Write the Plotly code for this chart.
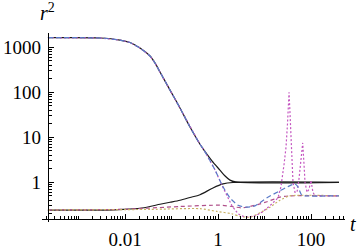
import plotly.graph_objects as go

# ---- data ----
black_top_t = [0.00022, 0.0029, 0.0078, 0.0128, 0.021, 0.0345, 0.044, 0.0566, 0.093, 0.152, 0.25, 0.41, 0.5, 0.74, 1.10, 1.42, 1.81, 2.4, 400]
black_top_r = [1634, 1610, 1450, 1280, 964, 640, 450, 282, 112, 45, 16.9, 7.0, 5.2, 3.0, 1.87, 1.38, 1.12, 1.02, 1.0]

black_bot_t = [0.00022, 0.004, 0.0091, 0.021, 0.0345, 0.0566, 0.093, 0.152, 0.25, 0.41, 0.78, 1.28, 2.1, 400]
black_bot_r = [0.242, 0.242, 0.25, 0.265, 0.29, 0.325, 0.36, 0.40, 0.46, 0.53, 0.75, 0.92, 0.99, 1.0]

blue_t = [0.00022, 0.0029, 0.0078, 0.0128, 0.021, 0.0345, 0.044, 0.0566, 0.093, 0.152, 0.25, 0.41, 0.5, 0.86, 1.22, 1.81, 2.7, 4.1, 6.25, 11.1, 21.5, 32, 45, 52, 63, 74, 400]
blue_r = [1634, 1610, 1450, 1280, 964, 640, 450, 282, 112, 45, 16.9, 7.0, 5.2, 1.9, 0.87, 0.45, 0.31, 0.28, 0.30, 0.45, 0.65, 0.80, 0.92, 0.80, 0.52, 0.50, 0.50]

pink_t = [0.00022, 0.0029, 0.0078, 0.0128, 0.021, 0.0345, 0.044, 0.0566, 0.093, 0.152, 0.25, 0.41, 0.5, 0.86, 1.22, 1.5, 2.0, 2.7, 3.5, 4.5, 6.5, 9, 13, 19.5, 22.6, 26.3, 29.0, 31.2, 33.7, 35.3, 37.1, 39.0, 41.0, 45.3, 50.0, 55.2, 61.0, 66.3, 70.7, 74.3, 82, 90.6, 100, 110, 122, 400]
pink_r = [1634, 1610, 1450, 1280, 964, 640, 450, 282, 112, 45, 16.9, 7.0, 5.2, 1.9, 0.85, 0.55, 0.30, 0.20, 0.175, 0.17, 0.18, 0.22, 0.30, 0.45, 0.8, 2.5, 6, 20, 100, 35, 12, 3, 1.0, 0.6, 0.6, 1.2, 4, 7.5, 2.5, 1.0, 0.6, 0.7, 1.1, 0.6, 0.5, 0.5]

purple_t = [0.00022, 0.0078, 0.152, 1.10, 1.98, 3.25, 4.9, 7.2, 11.3, 21.5, 35.3, 400]
purple_r = [0.242, 0.25, 0.29, 0.31, 0.29, 0.27, 0.29, 0.32, 0.37, 0.47, 0.50, 0.50]

gold_t = [0.00022, 0.035, 0.41, 0.95, 1.98, 3.0, 4.9, 8.0, 13.1, 21.5, 35.3, 400]
gold_r = [0.242, 0.25, 0.26, 0.225, 0.20, 0.175, 0.168, 0.21, 0.28, 0.40, 0.50, 0.50]

x_major = [0.01, 1, 100]
x_major_text = ["0.01", "1", "100"]
y_major = [1, 10, 100, 1000]
y_major_text = ["1", "10", "100", "1000"]

# ---- figure ----
fig = go.Figure()

def add(t, r, color, dash, shape="spline", smoothing=0.8):
    line = dict(color=color, width=1.2, dash=dash, shape=shape)
    if shape == "spline":
        line["smoothing"] = smoothing
    fig.add_trace(go.Scatter(x=t, y=r, mode="lines", line=line,
                             hoverinfo="skip", showlegend=False))

add(black_top_t, black_top_r, "#1a1a1a", "solid")
add(black_bot_t, black_bot_r, "#1a1a1a", "solid")
add(purple_t, purple_r, "#b0508a", "4px,3px", smoothing=0.6)
add(gold_t, gold_r, "#c8b062", "2px,2px", smoothing=0.6)
add(pink_t, pink_r, "#c456c0", "2px,2px", shape="linear")
add(blue_t, blue_r, "#5a7ac8", "5px,3px", smoothing=0.6)

minor_x = [m * 10.0 ** k for k in range(-4, 3) for m in range(1, 10)
           if not any(abs(m * 10.0 ** k - v) < 1e-12 for v in x_major)]
minor_y = [m * 10.0 ** k for k in range(-1, 4) for m in range(1, 10)
           if not any(abs(m * 10.0 ** k - v) < 1e-12 for v in y_major)]

W, H = 360, 250
L, R, T, B = 42, 15, 33, 28
pw, ph = W - L - R, H - T - B

FAM = "Liberation Serif, Times New Roman, Times, serif"
font = dict(family=FAM, size=19, color="black")

fig.update_layout(
    template="none",
    width=W, height=H,
    margin=dict(l=L, r=R, t=T, b=B, pad=0),
    paper_bgcolor="white", plot_bgcolor="white",
    font=font,
    xaxis=dict(
        type="log", range=[-3.785, 2.731], automargin=False,
        tickmode="array", tickvals=x_major, ticktext=x_major_text,
        ticks="inside", ticklen=5, tickwidth=1, tickcolor="black",
        minor=dict(tickmode="array", tickvals=minor_x, ticks="inside", ticklen=3,
                   tickwidth=0.8, tickcolor="black", showgrid=False),
        showline=True, linecolor="black", linewidth=1,
        showgrid=False, zeroline=False,
        anchor="free", position=(222 - 219) / ph,
        tickfont=font, ticklabelstandoff=3,
    ),
    yaxis=dict(
        type="log", range=[-0.882, 3.318], automargin=False,
        tickmode="array", tickvals=y_major, ticktext=y_major_text,
        ticks="inside", ticklen=5, tickwidth=1, tickcolor="black",
        minor=dict(tickmode="array", tickvals=minor_y, ticks="inside", ticklen=3,
                   tickwidth=0.8, tickcolor="black", showgrid=False),
        showline=True, linecolor="black", linewidth=1,
        showgrid=False, zeroline=False,
        anchor="free", position=(47.7 - L) / pw,
        tickfont=font, ticklabelstandoff=3,
    ),
    annotations=[
        dict(text="<i>r</i><sup>2</sup>", xref="paper", yref="paper",
             x=(38 - L) / pw, y=(H - B - 26) / ph, xanchor="left", yanchor="bottom",
             showarrow=False, font=dict(family=FAM, size=20, color="black")),
        dict(text="<i>t</i>", xref="paper", yref="paper",
             x=(353 - L) / pw, y=(H - B - 224) / ph, xanchor="center", yanchor="middle",
             showarrow=False, font=dict(family=FAM, size=20, color="black")),
    ],
)

fig.write_html("out.html", config={"displayModeBar": False},
               post_script="document.body.style.margin='0';document.body.style.padding='0';")
